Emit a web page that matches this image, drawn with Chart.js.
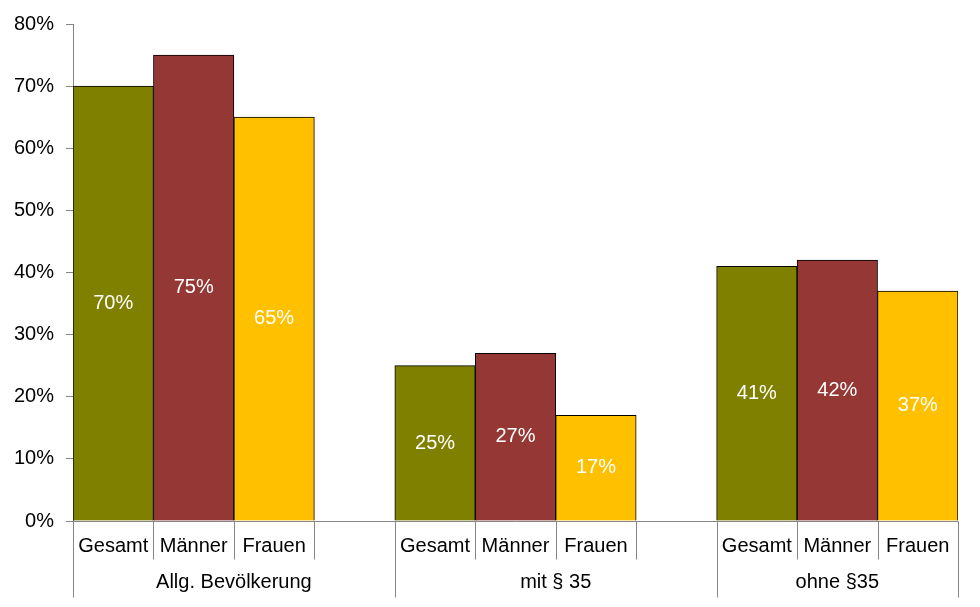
<!DOCTYPE html>
<html><head><meta charset="utf-8">
<script src="https://cdn.jsdelivr.net/npm/chart.js@4/dist/chart.umd.min.js"></script>
<style>html,body{margin:0;padding:0;background:#fff}#wrap{width:980px;height:607px}</style>
</head><body><div id="wrap"><canvas id="c" width="980" height="607"></canvas></div>
<script>
const groups = ['Allg. Bevölkerung', 'mit § 35', 'ohne §35'];
const subLabels = ['Gesamt', 'Männer', 'Frauen'];
const gesamt = [70, 25, 41];
const maenner = [75, 27, 42];
const frauen = [65, 17, 37];
const yTicks = [0, 10, 20, 30, 40, 50, 60, 70, 80];
const colors = ['#808000', '#953735', '#FFC000'];

// Build slots: 3 bars per group, one empty slot between groups
const labels = [], values = [], bg = [], groupOf = [];
groups.forEach((g, gi) => {
  const vals = [gesamt[gi], maenner[gi], frauen[gi]];
  vals.forEach((v, si) => { labels.push(subLabels[si]); values.push(v); bg.push(colors[si]); groupOf.push(gi); });
  if (gi < groups.length - 1) { labels.push(''); values.push(null); bg.push('#fff'); groupOf.push(gi); }
});

const FONT = "'Liberation Sans', Arial, sans-serif";

const axisPlugin = {
  id: 'axisDeco',
  afterDraw(chart) {
    const ctx = chart.ctx, x = chart.scales.x, area = chart.chartArea;
    const n = labels.length;
    const half = (x.getPixelForValue(1) - x.getPixelForValue(0)) / 2;
    ctx.save();
    ctx.strokeStyle = '#868686'; ctx.lineWidth = 1;
    const y0 = Math.round(area.bottom) + 0.5;
    // short separators
    for (let i = 0; i <= n; i++) {
      const px = Math.round(i < n ? x.getPixelForValue(i) - half : x.getPixelForValue(n - 1) + half) + 0.5;
      ctx.beginPath(); ctx.moveTo(px, y0); ctx.lineTo(px, y0 + 38); ctx.stroke();
    }
    // group boundaries (long)
    const bounds = [];
    groups.forEach((g, gi) => {
      const idx = groupOf.map((v, i) => v === gi ? i : -1).filter(i => i >= 0);
      const l = x.getPixelForValue(idx[0]) - half;
      const r = x.getPixelForValue(idx[idx.length - 1]) + half;
      bounds.push([l, r]);
    });
    const longXs = [bounds[0][0]];
    bounds.forEach(b => longXs.push(b[1]));
    longXs.forEach(lx => {
      const px = Math.round(lx) + 0.5;
      ctx.beginPath(); ctx.moveTo(px, y0); ctx.lineTo(px, y0 + 76); ctx.stroke();
    });
    // group labels
    ctx.fillStyle = '#000'; ctx.font = '20px ' + FONT;
    ctx.textAlign = 'center'; ctx.textBaseline = 'middle';
    groups.forEach((g, gi) => {
      const cx = (bounds[gi][0] + bounds[gi][1]) / 2;
      ctx.fillText(g, cx, y0 + 61);
    });
    // x axis line
    ctx.beginPath(); ctx.moveTo(area.left, y0); ctx.lineTo(area.right, y0); ctx.stroke();
    // data labels
    const meta = chart.getDatasetMeta(0);
    ctx.fillStyle = '#fff'; ctx.font = '20px ' + FONT;
    meta.data.forEach((el, i) => {
      if (values[i] === null) return;
      const cy = (el.y + el.base) / 2;
      ctx.fillText(values[i] + '%', el.x, cy);
    });
    ctx.restore();
  }
};

new Chart(document.getElementById('c'), {
  type: 'bar',
  data: { labels, datasets: [{ data: values, backgroundColor: bg, borderColor: '#000', borderWidth: 1, categoryPercentage: 1, barPercentage: 1 }] },
  options: {
    responsive: false, animation: false,
    layout: { padding: { top: 22, right: 22, left: 0, bottom: 0 } },
    plugins: { legend: { display: false }, tooltip: { enabled: false } },
    scales: {
      x: {
        grid: { display: false, drawTicks: false },
        border: { display: false },
        ticks: { color: '#000', font: { family: FONT, size: 20 }, padding: 13, maxRotation: 0, autoSkip: false },
        afterFit(s) { s.height = 86; }
      },
      y: {
        min: 0, max: 80,
        afterBuildTicks(s) { s.ticks = yTicks.map(v => ({ value: v })); },
        grid: { drawOnChartArea: false, drawTicks: true, tickLength: 7, color: '#868686' },
        border: { display: true, color: '#868686' },
        ticks: { color: '#000', font: { family: FONT, size: 20 }, padding: 12, callback: v => v + '%' },
        afterFit(s) { s.width = 73; }
      }
    }
  },
  plugins: [axisPlugin]
});
</script></body></html>
